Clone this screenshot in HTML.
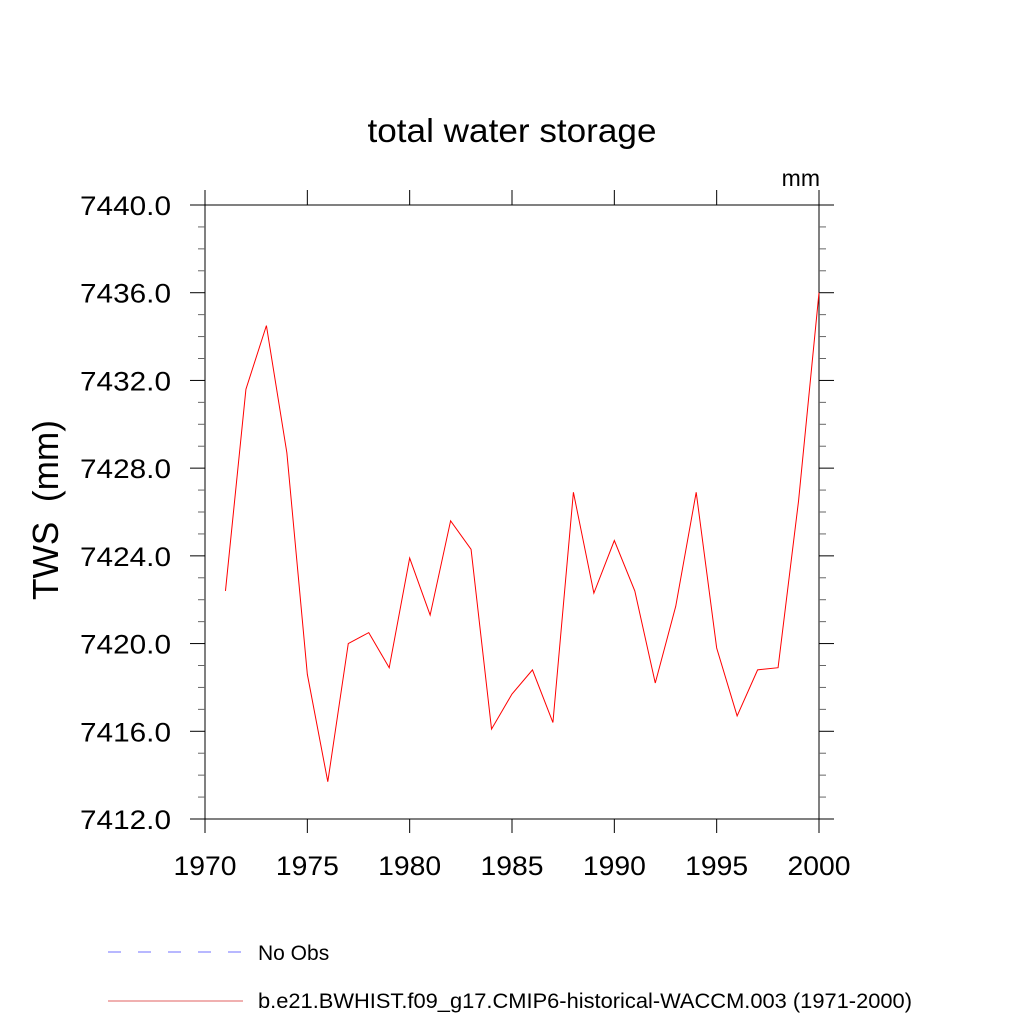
<!DOCTYPE html>
<html><head><meta charset="utf-8"><style>
body{margin:0;background:#fff}
svg text{font-family:"Liberation Sans",sans-serif}
</style></head><body>
<svg id="chart" width="1024" height="1024" viewBox="0 0 1024 1024" xmlns="http://www.w3.org/2000/svg">
<rect width="1024" height="1024" fill="#fff"/>
<text x="512" y="142" font-size="33" text-anchor="middle" textLength="289" lengthAdjust="spacingAndGlyphs">total water storage</text>
<text x="820" y="186" font-size="23" text-anchor="end">mm</text>
<text transform="translate(58,510) rotate(-90)" font-size="36" text-anchor="middle" textLength="180" lengthAdjust="spacingAndGlyphs">TWS&#160;&#160;(mm)</text>
<g id="axes"></g>
<g id="series"></g>
<g>
<line x1="108" y1="952" x2="243" y2="952" stroke="#7070ff" stroke-width="1" stroke-dasharray="13,17"/>
<text x="258" y="960" font-size="21">No Obs</text>
<line x1="108" y1="1001" x2="243" y2="1001" stroke="#e06060" stroke-width="1"/>
<text x="258" y="1008" font-size="21" textLength="654" lengthAdjust="spacingAndGlyphs">b.e21.BWHIST.f09_g17.CMIP6-historical-WACCM.003 (1971-2000)</text>
</g>
</svg>
<script>
const years=[1971,1972,1973,1974,1975,1976,1977,1978,1979,1980,1981,1982,1983,1984,1985,1986,1987,1988,1989,1990,1991,1992,1993,1994,1995,1996,1997,1998,1999,2000];
const tws=[7422.4,7431.6,7434.5,7428.7,7418.6,7413.7,7420.0,7420.5,7418.9,7423.9,7421.3,7425.6,7424.3,7416.1,7417.7,7418.8,7416.4,7426.9,7422.3,7424.7,7422.4,7418.2,7421.7,7426.9,7419.8,7416.7,7418.8,7418.9,7426.5,7436.0];
const xTicks=[1970,1975,1980,1985,1990,1995,2000];
const yTicks=[7412,7416,7420,7424,7428,7432,7436,7440];
const yTickLabels=["7412.0","7416.0","7420.0","7424.0","7428.0","7432.0","7436.0","7440.0"];
const L=205,R=819,T=205,B=819;
const xs=v=>L+(v-1970)/30*(R-L);
const ys=v=>B-(v-7412)/28*(B-T);
const NS="http://www.w3.org/2000/svg";
const ax=document.getElementById('axes');
function mk(tag,a,p){const e=document.createElementNS(NS,tag);for(const k in a)e.setAttribute(k,a[k]);p.appendChild(e);return e;}
const fr=mk('rect',{x:L,y:T,width:R-L,height:B-T,fill:'none',stroke:'#000','stroke-width':1},ax);


xTicks.forEach(v=>{const x=xs(v);
mk('line',{x1:x,y1:B,x2:x,y2:B+14,stroke:'#000'},ax);
mk('line',{x1:x,y1:T,x2:x,y2:T-15,stroke:'#000'},ax);
const t=mk('text',{x:x,y:875,'font-size':27,'text-anchor':'middle',textLength:63,lengthAdjust:'spacingAndGlyphs'},ax);t.textContent=v;

});
for(let v=7412;v<=7440;v++){const y=ys(v);const maj=(v-7412)%4===0;const l=maj?15:7;
mk('line',{x1:L-l,y1:y,x2:L,y2:y,stroke:maj?'#000':'#666'},ax);
mk('line',{x1:R,y1:y,x2:R+l,y2:y,stroke:maj?'#000':'#666'},ax);}
yTicks.forEach((v,i)=>{const t=mk('text',{x:171,y:ys(v)+10,'font-size':27,'text-anchor':'end',textLength:91,lengthAdjust:'spacingAndGlyphs'},ax);t.textContent=yTickLabels[i];

});
const p=mk('polyline',{points:years.map((y,i)=>xs(y)+','+ys(tws[i])).join(' '),fill:'none',stroke:'#f00','stroke-width':1},document.getElementById('series'));


</script>
</body></html>
